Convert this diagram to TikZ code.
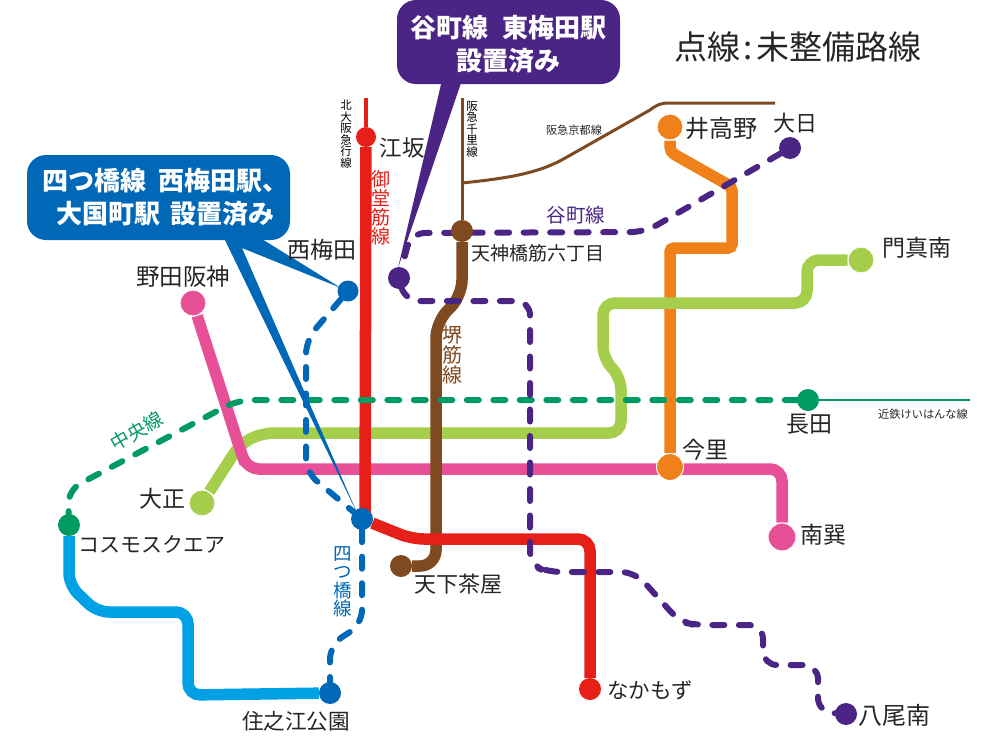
\documentclass[tikz,border=0pt]{standalone}
\usepackage{fontspec}
\setmainfont{Noto Sans CJK JP}
\usepackage{tikz}
\usetikzlibrary{backgrounds}
\definecolor{midoRed}{HTML}{E71F19}
\definecolor{taniPurple}{HTML}{4B2585}
\definecolor{yotsuBlue}{HTML}{0068B7}
\definecolor{newtramBlue}{HTML}{00A0E4}
\definecolor{chuoGreen}{HTML}{009B63}
\definecolor{nagaLime}{HTML}{A6CE4D}
\definecolor{senPink}{HTML}{E74F97}
\definecolor{imaOrange}{HTML}{F08019}
\definecolor{sakaiBrown}{HTML}{7F4A20}
\tikzset{
    fs/.style={font=\fontsize{#1}{#1}\selectfont},
    stn/.style={circle,fill=#1,inner sep=0pt,minimum size=22pt},
    stnw/.style={circle,fill=#1,draw=white,line width=1pt,inner sep=0pt,minimum size=26pt},
    lab/.style={inner sep=0pt,text=black!85,fs=#1},
    vlab/.style={inner sep=0pt,align=center,fs=#1},
    railthick/.style={line width=11.5pt,rounded corners=12pt},
    raildash/.style={line width=6pt,line cap=round,rounded corners=14pt,dash pattern=on 12pt off 14.5pt},
    rail/.style={line width=3pt},
    callout/.style={fill=#1,rounded corners=19pt,text=white,align=center,inner sep=0pt,font=\fontsize{26}{33}\selectfont\bfseries}
}
\begin{document}
\begin{tikzpicture}[x=1pt,y=-1pt]
    \useasboundingbox (0,0) rectangle (1000,755);
    % stations
    \node[stn=midoRed,minimum size=20pt] (esaka) at (366,137) {};
    \node[stn=midoRed] (nakamozu) at (590,689) {};
    \node[stn=yotsuBlue,minimum size=21pt] (nishiumeda) at (348,291) {};
    \node[stn=yotsuBlue] (daikokucho) at (362,519) {};
    \node[stn=yotsuBlue] (suminoe) at (330,693) {};
    \node[stn=taniPurple] (higashiumeda) at (399,278) {};
    \node[stn=taniPurple] (dainichi) at (790,148) {};
    \node[stn=taniPurple] (yaominami) at (846,714) {};
    \node[stn=sakaiBrown] (tenroku) at (462,231) {};
    \node[stn=sakaiBrown] (tengachaya) at (401,566) {};
    \node[stnw=imaOrange] (itakano) at (670,127) {};
    \node[stnw=imaOrange,minimum size=27pt] (imazato) at (670,467) {};
    \node[stnw=nagaLime] (kadoma) at (861,260) {};
    \node[stnw=nagaLime] (taisho) at (202,503) {};
    \node[stnw=senPink] (noda) at (193,303) {};
    \node[stnw=senPink,minimum size=28pt] (minamitatsumi) at (782,537) {};
    \node[stn=chuoGreen] (nagata) at (808,400) {};
    \node[stn=chuoGreen] (cosmo) at (69,525) {};
    \coordinate (kitakyu) at (366,98);
    \coordinate (senriend) at (462,98);
    \coordinate (keihanna) at (970,400);
    \coordinate (kyotojct) at (462,183);

    % callouts
    \node[callout=taniPurple,minimum width=223pt,minimum height=84pt] (calltani) at (508.5,42) {\rule{0pt}{27pt}谷町線\hspace{15pt}東梅田駅\\設置済み};
    \node[callout=yotsuBlue,minimum width=263pt,minimum height=85pt] (callyotsu) at (158.5,197.5) {\hspace*{14pt}四つ橋線\hspace{13pt}西梅田駅、\\\hspace*{14pt}大国町駅\hspace{11pt}設置済み};

    \begin{scope}[on background layer]
    % thin lines
    \draw[midoRed,line width=3.5pt] (kitakyu) -- (esaka);
    \draw[sakaiBrown,rail] (senriend) -- (tenroku);
    \draw[sakaiBrown,rail] (kyotojct) .. controls (510,178) and (540,173) .. (567,157) -- (650,110) .. controls (655,106) and (660,103) .. (668,103) -- (775,103);
    \draw[chuoGreen,rail,line width=2.4pt] (nagata) -- (keihanna);
    % lines
    \draw[imaOrange,railthick,rounded corners=5pt] (itakano) -- (670,152) -- (732,187);
    \draw[imaOrange,railthick,rounded corners=4pt] (725,183) -- (732,187) -- (732,248) -- (670,248) -- (imazato);
    \draw[nagaLime,railthick,rounded corners=12pt] (kadoma) -- (807,260) -- (807,303) -- (603,303) -- (603,358) -- (621,378) -- (621,433) -- (262,433) -- (240,444) -- (taisho);
    \draw[senPink,railthick] (noda) -- (241,452) -- (247,469) -- (782,469) -- (minamitatsumi);
    \draw[newtramBlue,railthick] (cosmo) -- (69,585) -- (97,612) -- (188,612) -- (188,695) -- (suminoe);
    \draw[sakaiBrown,railthick,rounded corners=16pt] (tenroku) -- (462,296) -- (436,322) -- (436,566) -- (tengachaya);
    \draw[midoRed,railthick,rounded corners=2pt] (esaka) -- (365,519);
    \draw[midoRed,railthick] (daikokucho) -- (412,539) -- (590,539) -- (nakamozu);
    % planned lines
    \draw[chuoGreen,raildash] (nagata) -- (238,400) -- (68,490) -- (cosmo);
    \draw[taniPurple,raildash] (dainichi) -- (645,232) -- (411,233) -- (higashiumeda);
    \draw[taniPurple,raildash] (higashiumeda) -- (405,301) -- (530,301) -- (530,565) -- (548,572) -- (635,572) -- (680,622) -- (695,625) -- (763,625) -- (763,665) -- (818,665) -- (818,712) -- (yaominami);
    \draw[yotsuBlue,raildash] (nishiumeda) -- (306,340) -- (306,472) -- (daikokucho);
    \draw[yotsuBlue,raildash] (daikokucho) -- (362,624) -- (330,645) -- (suminoe);
    % callout tails
    \fill[taniPurple] (442,80) -- (398,268) -- (462,80) -- cycle;
    \fill[yotsuBlue] (223,236) -- (358,515) -- (242,248) -- (341,288) -- (257,236) -- cycle;
    \end{scope}

    % station names
    \node[lab=22.5] (esakalab) at (402,148) {江坂};
    \node[lab=24] (itakanolab) at (721,128) {井高野};
    \node[lab=22] (dainichilab) at (795,123) {大日};
    \node[lab=19] (tenrokulab) at (538,253) {天神橋筋六丁目};
    \node[lab=23] (nishiumedalab) at (322,250) {西梅田};
    \node[lab=23.5] (nodalab) at (183,277) {野田阪神};
    \node[lab=23] (kadomalab) at (917,248) {門真南};
    \node[lab=23] (nagatalab) at (809,424) {長田};
    \node[lab=23] (imazatolab) at (705,450) {今里};
    \node[lab=23] (minamilab) at (823,535) {南巽};
    \node[lab=23] (taisholab) at (162,499) {大正};
    \node[lab=21] (cosmolab) at (152,544) {コスモスクエア};
    \node[lab=22] (tengalab) at (458,584) {天下茶屋};
    \node[lab=21.6] (suminoelab) at (296,721) {住之江公園};
    \node[lab=21.5] (nakamozulab) at (650,690) {なかもず};
    \node[lab=24] (yaolab) at (894,715) {八尾南};
    % line names
    \node[vlab=19,text=midoRed] (midolab) at (381,208) {御\\堂\\筋\\線};
    \node[vlab=20,text=sakaiBrown] (sakailab) at (452,355) {堺\\筋\\線};
    \node[vlab=18.5,text=yotsuBlue] (yotsulab) at (343,582) {四\\つ\\橋\\線};
    \node[lab=19.5,text=taniPurple] (tanilab) at (576,215) {谷町線};
    \node[lab=19,text=chuoGreen,rotate=30] (chuolab) at (137,431) {中央線};
    \node[lab=33] (notelab) at (798,47) {点線\hspace{3pt}:\hspace{3pt}未整備路線};
    \node[vlab=11.5] (kitalab) at (346,134) {北\\大\\阪\\急\\行\\線};
    \node[vlab=11.5] (senrilab) at (472,129) {阪\\急\\千\\里\\線};
    \node[lab=11.2] (kyotolab) at (574,130) {阪急京都線};
    \node[lab=11.2] (keihannalab) at (923,414) {近鉄けいはんな線};
\end{tikzpicture}
\end{document}
